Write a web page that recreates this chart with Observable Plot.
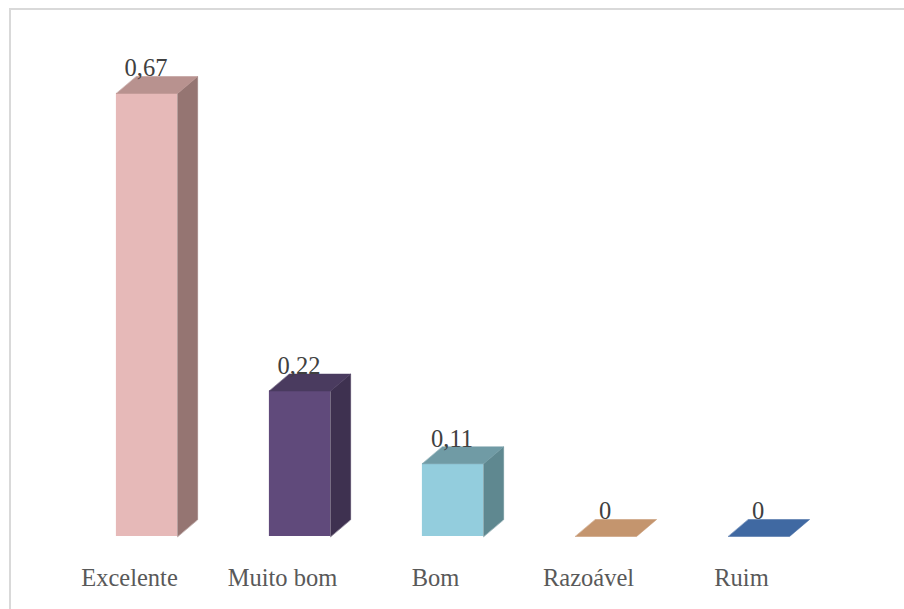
<!DOCTYPE html>
<html>
<head>
<meta charset="utf-8">
<script src="https://cdn.jsdelivr.net/npm/d3@7"></script>
<script src="https://cdn.jsdelivr.net/npm/@observablehq/plot@0.6"></script>
<style>
  html, body { margin: 0; padding: 0; background: #fff; }
  #wrap { position: relative; width: 904px; height: 609px; overflow: hidden; }
  #border { position: absolute; left: 9px; top: 8px; width: 1000px; height: 1000px;
            border-top: 2px solid #d9d9d9; border-left: 2px solid #d9d9d9; box-sizing: border-box; }
  #chart { position: absolute; left: 0; top: 0; }
</style>
</head>
<body>
<div id="wrap"><div id="border"></div><div id="chart"></div></div>
<script>
const categories = ["Excelente", "Muito bom", "Bom", "Razoável", "Ruim"];
const values = [0.67, 0.22, 0.11, 0, 0];
const frontColors = ["#E6B9B8", "#604A7B", "#93CDDD", "#C4956E", "#4069A2"];
const topColors   = ["#B8928F", "#4A3B5F", "#709BA5", "#BF8F69", "#3E68A0"];
const sideColors  = ["#957572", "#3E3150", "#5F8890", "#9A7355", "#30527E"];

const halfW = 0.2;      // half bar width in category units
const ddx = 0.131;      // depth offset (category units)
const ddy = 0.0257;     // depth offset (value units)

const data = categories.map((c, i) => ({i, c, v: values[i]}));
const polys = [];
data.forEach(d => {
  const L = d.i - halfW, R = d.i + halfW, v = d.v;
  if (v > 0) {
    [[R, 0], [R, v], [R + ddx, v + ddy], [R + ddx, ddy]].forEach(([x, y]) =>
      polys.push({id: "s" + d.i, x, y, color: sideColors[d.i]}));
  }
  [[L, v], [R, v], [R + ddx, v + ddy], [L + ddx, v + ddy]].forEach(([x, y]) =>
    polys.push({id: "t" + d.i, x, y, color: v > 0 ? topColors[d.i] : frontColors[d.i]}));
});
const bars = data.filter(d => d.v > 0);
const fmt = v => v === 0 ? "0" : String(v).replace(".", ",");

const chart = Plot.plot({
  width: 904,
  height: 609,
  marginTop: 0, marginLeft: 0, marginRight: 0, marginBottom: 73,
  x: {type: "linear", domain: [0, 4], range: [146.5, 758.5], axis: null},
  y: {domain: [0, 0.67], range: [536, 93], axis: null},
  color: {type: "identity"},
  style: {fontFamily: "Liberation Serif", background: "transparent"},
  marks: [
    Plot.rect(bars, {x1: d => d.i - halfW, x2: d => d.i + halfW, y1: 0, y2: "v",
      fill: d => frontColors[d.i], inset: 0}),
    Plot.line(polys, {x: "x", y: "y", z: "id", fill: "color", stroke: "color", strokeWidth: 0.5, curve: "linear-closed"}),
    Plot.text(data, {x: "i", y: "v", text: d => fmt(d.v), dy: -25, dx: -1,
      fontSize: 24.5, fill: "#404040"}),
    Plot.text(data, {x: "i", y: 0, text: "c", dy: 42, dx: -17.5,
      fontSize: 24.5, fill: "#595959"})
  ]
});
document.getElementById("chart").appendChild(chart);
</script>
</body>
</html>
